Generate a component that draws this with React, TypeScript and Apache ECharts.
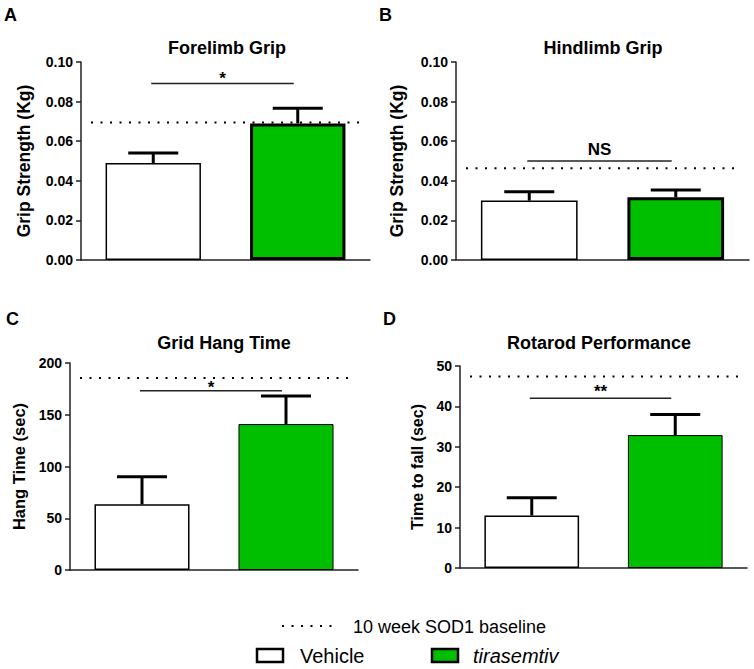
import React, { useEffect, useRef } from "react";
import * as echarts from "echarts";

const categories = ["Vehicle", "tirasemtiv"];

// Panel A: Forelimb Grip (Kg)
const forelimbMean = [0.049, 0.069];
const forelimbSem = [0.0051, 0.0076];
const forelimbBaseline = 0.0695;
const forelimbSig = { level: 0.0892, label: "*" };

// Panel B: Hindlimb Grip (Kg)
const hindlimbMean = [0.030, 0.0317];
const hindlimbSem = [0.0045, 0.0037];
const hindlimbBaseline = 0.0463;
const hindlimbSig = { level: 0.050, label: "NS" };

// Panel C: Grid Hang Time (sec)
const hangMean = [63.5, 141];
const hangSem = [26.6, 27];
const hangBaseline = 185.5;
const hangSig = { level: 173.2, label: "*" };

// Panel D: Rotarod Performance (sec)
const rotarodMean = [13.0, 32.9];
const rotarodSem = [4.4, 5.1];
const rotarodBaseline = 47.4;
const rotarodSig = { level: 42.0, label: "**" };

const FONT = "'Liberation Sans', Arial, Helvetica, sans-serif";
const GREEN = "#00bf00";

export default function App() {
  const ref = useRef<HTMLDivElement>(null);

  useEffect(() => {
    if (!ref.current) return;
    const chart = echarts.init(ref.current, undefined, { renderer: "svg" });

    const panels = [
      {
        grid: { left: 81, top: 62, width: 289, height: 198 },
        mean: forelimbMean, sem: forelimbSem, baseline: forelimbBaseline, sig: forelimbSig,
        max: 0.1, interval: 0.02, digits: 2, name: "Grip Strength (Kg)", nameGap: 48, nameSize: 17.5,
        greenBorder: 3, sigOffset: 5,
      },
      {
        grid: { left: 456, top: 62, width: 293, height: 198 },
        mean: hindlimbMean, sem: hindlimbSem, baseline: hindlimbBaseline, sig: hindlimbSig,
        max: 0.1, interval: 0.02, digits: 2, name: "Grip Strength (Kg)", nameGap: 50, nameSize: 17.5,
        greenBorder: 3, sigOffset: 12,
      },
      {
        grid: { left: 70, top: 363, width: 288, height: 207 },
        mean: hangMean, sem: hangSem, baseline: hangBaseline, sig: hangSig,
        max: 200, interval: 50, digits: 0, name: "Hang Time (sec)", nameGap: 43, nameSize: 16.5,
        greenBorder: 1, sigOffset: 3,
      },
      {
        grid: { left: 460, top: 366, width: 287, height: 202 },
        mean: rotarodMean, sem: rotarodSem, baseline: rotarodBaseline, sig: rotarodSig,
        max: 50, interval: 10, digits: 0, name: "Time to fall (sec)", nameGap: 35, nameSize: 16,
        greenBorder: 1, sigOffset: 7,
      },
    ];

    const grids: any[] = [];
    const xAxes: any[] = [];
    const yAxes: any[] = [];
    const series: any[] = [];

    panels.forEach((p, i) => {
      grids.push({ ...p.grid, containLabel: false });
      xAxes.push({
        type: "category",
        gridIndex: i,
        data: categories,
        axisLine: { show: true, lineStyle: { color: "#222", width: 1.5 } },
        axisTick: { show: false },
        axisLabel: { show: false },
        splitLine: { show: false },
      });
      yAxes.push({
        type: "value",
        gridIndex: i,
        min: 0,
        max: p.max,
        interval: p.interval,
        name: p.name,
        nameLocation: "middle",
        nameGap: p.nameGap,
        nameTextStyle: { fontFamily: FONT, fontWeight: "bold", fontSize: p.nameSize, color: "#000" },
        axisLine: { show: true, lineStyle: { color: "#222", width: 1.5 } },
        axisTick: { show: true, length: 5, lineStyle: { color: "#222", width: 1.5 } },
        axisLabel: {
          margin: 8,
          fontFamily: FONT,
          fontWeight: "bold",
          fontSize: 14,
          color: "#000",
          formatter: (v: number) => v.toFixed(p.digits),
        },
        splitLine: { show: false },
      });

      series.push({
        type: "bar",
        xAxisIndex: i,
        yAxisIndex: i,
        barWidth: "66%",
        silent: true,
        z: 2,
        data: p.mean.map((m, k) => ({
          value: m,
          itemStyle:
            k === 0
              ? { color: "#ffffff", borderColor: "#000", borderWidth: 1.5 }
              : { color: GREEN, borderColor: "#000", borderWidth: p.greenBorder },
        })),
      });

      // error bars (mean + SEM)
      series.push({
        type: "custom",
        xAxisIndex: i,
        yAxisIndex: i,
        silent: true,
        z: 3,
        data: p.mean.map((m, k) => [k, m, m + p.sem[k]]),
        renderItem: (params: any, api: any) => {
          const x = api.value(0);
          const a = api.coord([x, api.value(1)]);
          const b = api.coord([x, api.value(2)]);
          const cap = 25;
          return {
            type: "group",
            children: [
              { type: "line", shape: { x1: a[0], y1: a[1], x2: b[0], y2: b[1] }, style: { stroke: "#000", lineWidth: 3 } },
              { type: "line", shape: { x1: b[0] - cap, y1: b[1], x2: b[0] + cap, y2: b[1] }, style: { stroke: "#000", lineWidth: 3 } },
            ],
          };
        },
      });

      // baseline dotted line
      series.push({
        type: "custom",
        xAxisIndex: i,
        yAxisIndex: i,
        silent: true,
        z: 4,
        data: [[0, p.baseline]],
        renderItem: (params: any, api: any) => {
          const cs = params.coordSys;
          const y = api.coord([0, api.value(1)])[1];
          return {
            type: "line",
            shape: { x1: cs.x + 10, y1: y, x2: cs.x + cs.width - 8, y2: y },
            style: { stroke: "#000", lineWidth: 2, lineDash: [2, 7.5] },
          };
        },
      });

      // significance bar
      series.push({
        type: "custom",
        xAxisIndex: i,
        yAxisIndex: i,
        silent: true,
        z: 4,
        data: [[0, p.sig.level]],
        renderItem: (params: any, api: any) => {
          const a = api.coord([0, api.value(1)]);
          const b = api.coord([1, api.value(1)]);
          return {
            type: "group",
            children: [
              { type: "line", shape: { x1: a[0] - 2, y1: a[1], x2: b[0] - 4, y2: b[1] }, style: { stroke: "#222", lineWidth: 1.5 } },
              {
                type: "text",
                x: (a[0] + b[0]) / 2 - 3,
                y: a[1] - p.sigOffset,
                style: {
                  text: p.sig.label,
                  align: "center",
                  verticalAlign: "middle",
                  font: `bold 17px ${FONT}`,
                  fill: "#000",
                },
              },
            ],
          };
        },
      });
    });

    const titleFont = `bold 18px ${FONT}`;
    const letterFont = `bold 18px ${FONT}`;
    const graphic: any[] = [
      { type: "text", x: 227, y: 48, style: { text: "Forelimb Grip", align: "center", verticalAlign: "middle", font: titleFont, fill: "#000" } },
      { type: "text", x: 603, y: 48, style: { text: "Hindlimb Grip", align: "center", verticalAlign: "middle", font: titleFont, fill: "#000" } },
      { type: "text", x: 224, y: 343, style: { text: "Grid Hang Time", align: "center", verticalAlign: "middle", font: titleFont, fill: "#000" } },
      { type: "text", x: 599, y: 343, style: { text: "Rotarod Performance", align: "center", verticalAlign: "middle", font: titleFont, fill: "#000" } },
      { type: "text", x: 4, y: 15, style: { text: "A", align: "left", verticalAlign: "middle", font: letterFont, fill: "#000" } },
      { type: "text", x: 379, y: 15, style: { text: "B", align: "left", verticalAlign: "middle", font: letterFont, fill: "#000" } },
      { type: "text", x: 6, y: 319, style: { text: "C", align: "left", verticalAlign: "middle", font: letterFont, fill: "#000" } },
      { type: "text", x: 383, y: 319, style: { text: "D", align: "left", verticalAlign: "middle", font: letterFont, fill: "#000" } },
      // legend
      { type: "line", shape: { x1: 282, y1: 626, x2: 339, y2: 626 }, style: { stroke: "#000", lineWidth: 2, lineDash: [2, 7.5] } },
      { type: "text", x: 353, y: 627, style: { text: "10 week SOD1 baseline", align: "left", verticalAlign: "middle", font: `18px ${FONT}`, fill: "#000" } },
      { type: "rect", shape: { x: 257, y: 649, width: 26, height: 13 }, style: { fill: "#fff", stroke: "#000", lineWidth: 2.5 } },
      { type: "text", x: 300, y: 656, style: { text: "Vehicle", align: "left", verticalAlign: "middle", font: `20px ${FONT}`, fill: "#000" } },
      { type: "rect", shape: { x: 432, y: 649, width: 26, height: 13 }, style: { fill: GREEN, stroke: "#000", lineWidth: 2.5 } },
      { type: "text", x: 473, y: 656, style: { text: "tirasemtiv", align: "left", verticalAlign: "middle", font: `italic 20px ${FONT}`, fill: "#000" } },
    ];

    chart.setOption({
      animation: false,
      backgroundColor: "#ffffff",
      grid: grids,
      xAxis: xAxes,
      yAxis: yAxes,
      series,
      graphic,
    });

    return () => chart.dispose();
  }, []);

  return (
    <div
      ref={ref}
      style={{ position: "absolute", left: 0, top: 0, width: 754, height: 669 }}
    />
  );
}
